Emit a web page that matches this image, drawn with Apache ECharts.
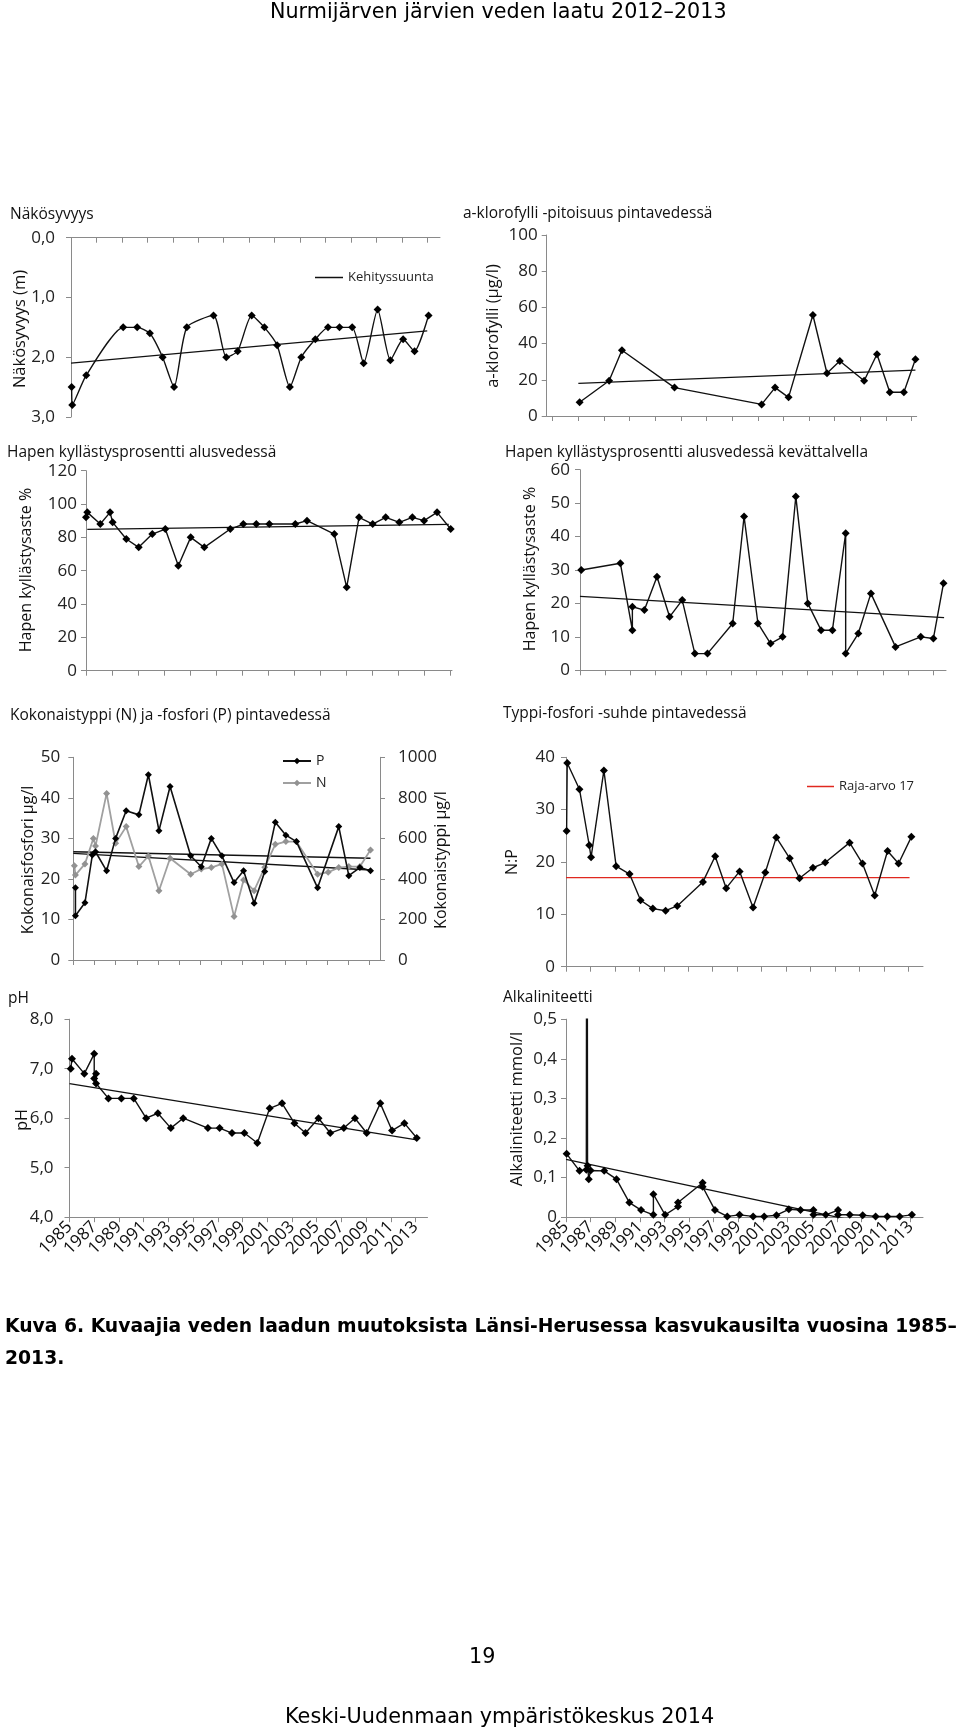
<!DOCTYPE html>
<html><head><meta charset="utf-8">
<script src="https://cdn.jsdelivr.net/npm/echarts@6.0.0/dist/echarts.min.js"></script>
<style>
html,body{margin:0;padding:0;background:#fff;}
#page{position:relative;width:960px;height:1730px;overflow:hidden;background:#fff;}
#chart{position:absolute;left:0;top:0;width:960px;height:1730px;}
.pt{position:absolute;font-family:"DejaVu Sans",sans-serif;color:#000;white-space:nowrap;}
</style></head>
<body><div id="page">
<div id="chart"></div>
<div class="pt" style="left:270px;top:-1px;font-size:20.7px;">Nurmijärven järvien veden laatu 2012–2013</div>
<div class="pt" style="left:5px;top:1310px;font-size:18.75px;font-weight:bold;line-height:32px;">Kuva 6. Kuvaajia veden laadun muutoksista Länsi-Herusessa kasvukausilta vuosina 1985–<br>2013.</div>
<div class="pt" style="left:469px;top:1644px;font-size:20.7px;">19</div>
<div class="pt" style="left:285px;top:1704px;font-size:20.8px;">Keski-Uudenmaan ympäristökeskus 2014</div>
</div>
<script>
// ---------- DATA ----------
const yearTicks = [1985, 1987, 1989, 1991, 1993, 1995, 1997, 1999, 2001, 2003, 2005, 2007, 2009, 2011, 2013];

// Näkösyvyys (m)
const secchiYears = [1985.05, 1985.1, 1986.2, 1989.1, 1990.2, 1991.2, 1992.2, 1993.1, 1994.1, 1996.2, 1997.2, 1998.1, 1999.2, 2000.2, 2001.2, 2002.2, 2003.1, 2004.2, 2005.2, 2006.1, 2007.1, 2008.0, 2009.1, 2010.1, 2011.1, 2012.0, 2013.1];
const secchiValues = [2.5, 2.8, 2.3, 1.5, 1.5, 1.6, 2.0, 2.5, 1.5, 1.3, 2.0, 1.9, 1.3, 1.5, 1.8, 2.5, 2.0, 1.7, 1.5, 1.5, 1.5, 2.1, 1.2, 2.05, 1.7, 1.9, 1.3];
const secchiTrendYears = [1985, 2013];
const secchiTrendValues = [2.10, 1.56];

// a-klorofylli (µg/l)
const chlYears = [1987.1, 1989.4, 1990.4, 1994.5, 2001.3, 2002.35, 2003.4, 2005.3, 2006.4, 2007.4, 2009.3, 2010.3, 2011.3, 2012.4, 2013.3];
const chlValues = [7.6, 19.5, 36.3, 15.7, 6.4, 15.7, 10.3, 55.8, 23.6, 30.4, 19.5, 34.1, 13.1, 13.1, 31.3];
const chlTrendYears = [1987.0, 2013.3];
const chlTrendValues = [18.0, 25.4];

// Hapen kyllästysaste % alusvedessä
const oxyYears = [1985.0, 1985.1, 1986.1, 1986.85, 1987.05, 1988.1, 1989.05, 1990.1, 1991.1, 1992.1, 1993.05, 1994.1, 1996.1, 1997.1, 1998.1, 1999.1, 2001.1, 2002.0, 2004.1, 2005.05, 2006.0, 2007.05, 2008.05, 2009.1, 2010.1, 2011.0, 2012.0, 2013.05];
const oxyValues = [92, 95, 88, 95, 89, 79, 74, 82, 85, 63, 80, 74, 85, 88, 88, 88, 88, 90, 82, 50, 92, 88, 92, 89, 92, 90, 95, 85];
const oxyTrendYears = [1985.1, 2012.9];
const oxyTrendValues = [84.8, 87.8];

// Hapen kyllästysaste % kevättalvella
const oxyWinterYears = [1985.1, 1988.2, 1989.15, 1989.15, 1990.1, 1991.1, 1992.1, 1993.1, 1994.1, 1995.1, 1997.1, 1998.0, 1999.1, 2000.1, 2001.05, 2002.1, 2003.05, 2004.1, 2005.0, 2006.05, 2006.05, 2007.05, 2008.05, 2010.0, 2012.0, 2013.0, 2013.8];
const oxyWinterValues = [30, 32, 12, 19, 18, 28, 16, 21, 5, 5, 14, 46, 14, 8, 10, 52, 20, 12, 12, 41, 5, 11, 23, 7, 10, 9.5, 26];
const oxyWinterTrendYears = [1985, 2013.85];
const oxyWinterTrendValues = [22.1, 15.75];

// Kokonaisfosfori P (µg/l)
const pYears = [1985.2, 1985.2, 1986.1, 1986.8, 1987.1, 1988.15, 1989.0, 1990.0, 1991.2, 1992.1, 1993.1, 1994.15, 1996.1, 1997.1, 1998.05, 1999.05, 2000.2, 2001.1, 2002.1, 2003.1, 2004.1, 2005.1, 2006.1, 2008.1, 2010.1, 2011.05, 2012.1, 2013.1];
const pValues = [17.8, 10.9, 14.1, 25.9, 26.7, 22, 30, 36.8, 35.8, 45.7, 31.9, 42.8, 25.7, 23, 30, 25.7, 19.1, 22, 14, 21.8, 34, 30.8, 29.2, 17.8, 32.9, 20.8, 22.8, 22];
const pTrendYears = [1985, 2013.1];
const pTrendValues = [26.7, 25.1];

// Kokonaistyppi N (µg/l)
const nYears = [1985.1, 1985.2, 1986.1, 1986.9, 1987.1, 1988.15, 1989.0, 1990.0, 1991.2, 1992.1, 1993.1, 1994.15, 1996.1, 1997.1, 1998.05, 1999.05, 2000.2, 2001.1, 2002.1, 2003.1, 2004.1, 2005.1, 2006.1, 2008.1, 2009.1, 2010.1, 2011.05, 2012.1, 2013.1];
const nValues = [465, 419, 474, 600, 562, 822, 576, 658, 461, 513, 342, 502, 423, 449, 456, 474, 214, 395, 342, 457, 571, 584, 584, 423, 433, 456, 461, 461, 543];
const nTrendYears = [1985, 2013.1];
const nTrendValues = [526, 444];

// N:P
const npYears = [1985.05, 1985.1, 1986.1, 1986.9, 1987.05, 1988.1, 1989.1, 1990.2, 1991.1, 1992.1, 1993.15, 1994.1, 1996.2, 1997.2, 1998.1, 1999.2, 2000.3, 2001.3, 2002.2, 2003.3, 2004.1, 2005.2, 2006.2, 2008.2, 2009.25, 2010.25, 2011.3, 2012.2, 2013.25];
const npValues = [25.9, 38.9, 33.9, 23.2, 20.9, 37.5, 19.2, 17.7, 12.7, 11.1, 10.7, 11.6, 16.2, 21.1, 15.0, 18.2, 11.3, 18.0, 24.7, 20.7, 16.9, 18.9, 19.9, 23.7, 19.7, 13.6, 22.1, 19.7, 24.8];
const npLimitYears = [1985, 2013.1];
const npLimitValues = [17, 17];

// pH
const phYears = [1985.1, 1985.2, 1986.2, 1987.0, 1987.0, 1987.15, 1987.15, 1988.15, 1989.2, 1990.2, 1991.2, 1992.15, 1993.2, 1994.2, 1996.2, 1997.15, 1998.15, 1999.15, 2000.2, 2001.2, 2002.2, 2003.2, 2004.1, 2005.15, 2006.1, 2007.2, 2008.1, 2009.05, 2010.15, 2011.1, 2012.1, 2013.1];
const phValues = [7.0, 7.2, 6.9, 7.3, 6.8, 6.9, 6.7, 6.4, 6.4, 6.4, 6.0, 6.1, 5.8, 6.0, 5.8, 5.8, 5.7, 5.7, 5.5, 6.2, 6.3, 5.9, 5.7, 6.0, 5.7, 5.8, 6.0, 5.7, 6.3, 5.75, 5.9, 5.6];
const phTrendYears = [1985, 2013.1];
const phTrendValues = [6.70, 5.56];

// Alkaliniteetti (mmol/l) — the 1986.7 value is off the chart (clipped at 0,5)
const alkYears = [1985.05, 1986.1, 1986.65, 1986.7, 1986.75, 1986.85, 1987.0, 1988.1, 1989.1, 1990.15, 1991.1, 1992.1, 1992.1, 1993.05, 1994.1, 1994.1, 1996.1, 1996.1, 1997.1, 1998.1, 1999.1, 2000.2, 2001.1, 2002.1, 2003.1, 2004.05, 2005.1, 2005.1, 2006.1, 2007.1, 2007.1, 2008.05, 2009.1, 2010.15, 2011.1, 2012.1, 2013.1];
const alkValues = [0.16, 0.117, 0.12, 1.5, 0.13, 0.096, 0.118, 0.117, 0.096, 0.037, 0.018, 0.006, 0.058, 0.006, 0.027, 0.037, 0.087, 0.077, 0.018, 0.002, 0.006, 0.002, 0.002, 0.005, 0.020, 0.018, 0.018, 0.006, 0.006, 0.018, 0.006, 0.006, 0.005, 0.002, 0.002, 0.002, 0.006];
const alkTrendYears = [1985, 2013.1];
const alkTrendValues = [0.146, -0.04];

// ---------- STYLE / HELPERS ----------
const FONT = '"Open Sans", Lato, "Noto Sans", sans-serif';
const AX = '#8a8a8a';
const TXT = '#222';
const pts = (xs, ys) => xs.map((x, i) => [x, ys[i]]);
const comma1 = v => v.toFixed(1).replace('.', ',');

function grid(left, top, width, height) {
  return { left, top, width, height, containLabel: false, outerBoundsMode: 'none' };
}
function xAx(gi, min, max, extra) {
  return Object.assign({
    type: 'value', gridIndex: gi, min, max,
    axisLine: { show: true, onZero: false, lineStyle: { color: AX, width: 1 } },
    axisTick: { show: true, length: 5, customValues: yearTicks, lineStyle: { color: AX, width: 1 } },
    axisLabel: { show: false, customValues: yearTicks },
    splitLine: { show: false }
  }, extra || {});
}
function yAx(gi, min, max, interval, fmt, margin, extra) {
  return Object.assign({
    type: 'value', gridIndex: gi, min, max, interval,
    axisLine: { show: true, onZero: false, lineStyle: { color: AX, width: 1 } },
    axisTick: { show: true, length: 5, lineStyle: { color: AX, width: 1 } },
    axisLabel: { show: true, fontSize: 17, color: TXT, fontFamily: FONT, margin, formatter: fmt || (v => String(v)) },
    splitLine: { show: false }
  }, extra || {});
}
const yearLabels = { show: true, customValues: yearTicks, rotate: 45, fontSize: 17, color: '#111', fontFamily: FONT, margin: 7, formatter: v => String(Math.round(v)) };

function dataLine(name, idx, xs, ys, extra) {
  return Object.assign({
    type: 'line', name, xAxisIndex: idx[0], yAxisIndex: idx[1], data: pts(xs, ys),
    symbol: 'diamond', symbolSize: 8, showSymbol: true, clip: true, silent: true,
    lineStyle: { color: '#111', width: 1.4 }, itemStyle: { color: '#000' }, z: 3
  }, extra || {});
}
function trendLine(name, idx, xs, ys, extra) {
  return Object.assign({
    type: 'line', name, xAxisIndex: idx[0], yAxisIndex: idx[1], data: pts(xs, ys),
    symbol: 'none', clip: true, silent: true,
    lineStyle: { color: '#111', width: 1.3 }, itemStyle: { color: '#111' }, z: 2
  }, extra || {});
}
function label(text, x, y, size) {
  return {
    type: 'text', x, y, silent: true,
    style: { text, fontSize: size, fontFamily: FONT, fill: '#111', align: 'left', verticalAlign: 'middle' }
  };
}
function vLabel(text, x, y, size) {
  return {
    type: 'text', x, y, rotation: Math.PI / 2, silent: true,
    style: { text, fontSize: size, fontFamily: FONT, fill: '#111', align: 'center', verticalAlign: 'middle' }
  };
}
const legendText = { fontSize: 13, fontFamily: FONT, color: TXT };

const option = {
  animation: false,
  backgroundColor: '#fff',
  grid: [
    grid(71, 237.7, 369, 179.3),      // 0 Näkösyvyys
    grid(546.7, 235, 370, 181),       // 1 a-klorofylli
    grid(86, 470.7, 366, 200),        // 2 Hapen alusvesi
    grid(580, 469.7, 366, 200.6),     // 3 Hapen kevättalvi
    grid(73.3, 757.3, 306.7, 202.7),  // 4 N & P
    grid(566, 757.3, 357, 209.4),     // 5 N:P
    grid(69.5, 1019.2, 358, 198),     // 6 pH
    grid(566, 1019.2, 357, 198)       // 7 Alkaliniteetti
  ],
  xAxis: [
    xAx(0, 1985, 2014.0, { position: 'top', axisTick: { show: true, inside: true, length: 5, customValues: yearTicks, lineStyle: { color: AX } } }),
    xAx(1, 1984.53, 2013.4),
    xAx(2, 1985, 2013.15),
    xAx(3, 1985, 2014.0),
    xAx(4, 1985, 2014.0),
    xAx(5, 1985, 2014.2),
    xAx(6, 1985, 2013.97, { axisLabel: yearLabels }),
    xAx(7, 1985, 2014.0, { axisLabel: yearLabels })
  ],
  yAxis: [
    yAx(0, 0, 3, 1, comma1, 16, { inverse: true }),
    yAx(1, 0, 100, 20, null, 9),
    yAx(2, 0, 120, 20, null, 9),
    yAx(3, 0, 60, 10, null, 10),
    yAx(4, 0, 50, 10, null, 13),
    yAx(4, 0, 1000, 200, null, 18, { position: 'right' }),
    yAx(5, 0, 40, 10, null, 11),
    yAx(6, 4, 8, 1, comma1, 16),
    yAx(7, 0, 0.5, 0.1, v => (Math.abs(v) < 1e-9 ? '0' : v.toFixed(1).replace('.', ',')), 9)
  ],
  legend: [
    { data: ['Kehityssuunta'], icon: 'rect', left: 310, top: 266, itemWidth: 28, itemHeight: 1.5, selectedMode: false, textStyle: legendText },
    { data: ['P', 'N'], orient: 'vertical', left: 277, top: 749, itemGap: 8, itemWidth: 28, itemHeight: 8, selectedMode: false, textStyle: Object.assign({}, legendText, { fontSize: 14 }) },
    { data: ['Raja-arvo 17'], icon: 'rect', left: 802, top: 775, itemWidth: 27, itemHeight: 1.5, selectedMode: false, textStyle: legendText }
  ],
  series: [
    dataLine('secchi', [0, 0], secchiYears, secchiValues, { smooth: 0.2 }),
    trendLine('Kehityssuunta', [0, 0], secchiTrendYears, secchiTrendValues),

    dataLine('chl', [1, 1], chlYears, chlValues),
    trendLine('chlTrend', [1, 1], chlTrendYears, chlTrendValues),

    dataLine('oxy', [2, 2], oxyYears, oxyValues),
    trendLine('oxyTrend', [2, 2], oxyTrendYears, oxyTrendValues),

    dataLine('oxyWinter', [3, 3], oxyWinterYears, oxyWinterValues),
    trendLine('oxyWinterTrend', [3, 3], oxyWinterTrendYears, oxyWinterTrendValues),

    dataLine('N', [4, 5], nYears, nValues, { symbolSize: 7, lineStyle: { color: '#a0a0a0', width: 1.8 }, itemStyle: { color: '#929292' } }),
    dataLine('P', [4, 4], pYears, pValues, { symbolSize: 7, lineStyle: { color: '#111', width: 1.6 }, itemStyle: { color: '#000' }, z: 4 }),
    trendLine('pTrend', [4, 4], pTrendYears, pTrendValues),
    trendLine('nTrend', [4, 5], nTrendYears, nTrendValues),

    dataLine('np', [5, 6], npYears, npValues),
    trendLine('Raja-arvo 17', [5, 6], npLimitYears, npLimitValues, { lineStyle: { color: '#e0281f', width: 1.3 }, itemStyle: { color: '#e0281f' } }),

    dataLine('ph', [6, 7], phYears, phValues),
    trendLine('phTrend', [6, 7], phTrendYears, phTrendValues),

    dataLine('alk', [7, 8], alkYears, alkValues),
    trendLine('alkTrend', [7, 8], alkTrendYears, alkTrendValues)
  ],
  graphic: [
    label('Näkösyvyys', 10, 215, 15.5),
    label('a-klorofylli -pitoisuus pintavedessä', 463, 214, 15.5),
    label('Hapen kyllästysprosentti alusvedessä', 7, 453, 15.5),
    label('Hapen kyllästysprosentti alusvedessä kevättalvella', 505, 453, 15.5),
    label('Kokonaistyppi (N) ja -fosfori (P) pintavedessä', 10, 716, 15.5),
    label('Typpi-fosfori -suhde pintavedessä', 503, 714, 15.5),
    label('pH', 8, 999, 15.5),
    label('Alkaliniteetti', 503, 998, 15.5),

    vLabel('Näkösyvyys (m)', 20.5, 329, 16.5),
    vLabel('a-klorofylli (µg/l)', 493.5, 326, 16.5),
    vLabel('Hapen kyllästysaste %', 26.5, 570, 16),
    vLabel('Hapen kyllästysaste %', 530, 569, 16),
    vLabel('Kokonaisfosfori µg/l', 28, 860, 16),
    vLabel('Kokonaistyppi µg/l', 441, 860, 16),
    vLabel('N:P', 512, 862, 16),
    vLabel('pH', 22, 1120, 16),
    vLabel('Alkaliniteetti mmol/l', 517, 1109, 16.5)
  ]
};

const chart = echarts.init(document.getElementById('chart'), null, { renderer: 'canvas' });
chart.setOption(option);
</script>
</body></html>
